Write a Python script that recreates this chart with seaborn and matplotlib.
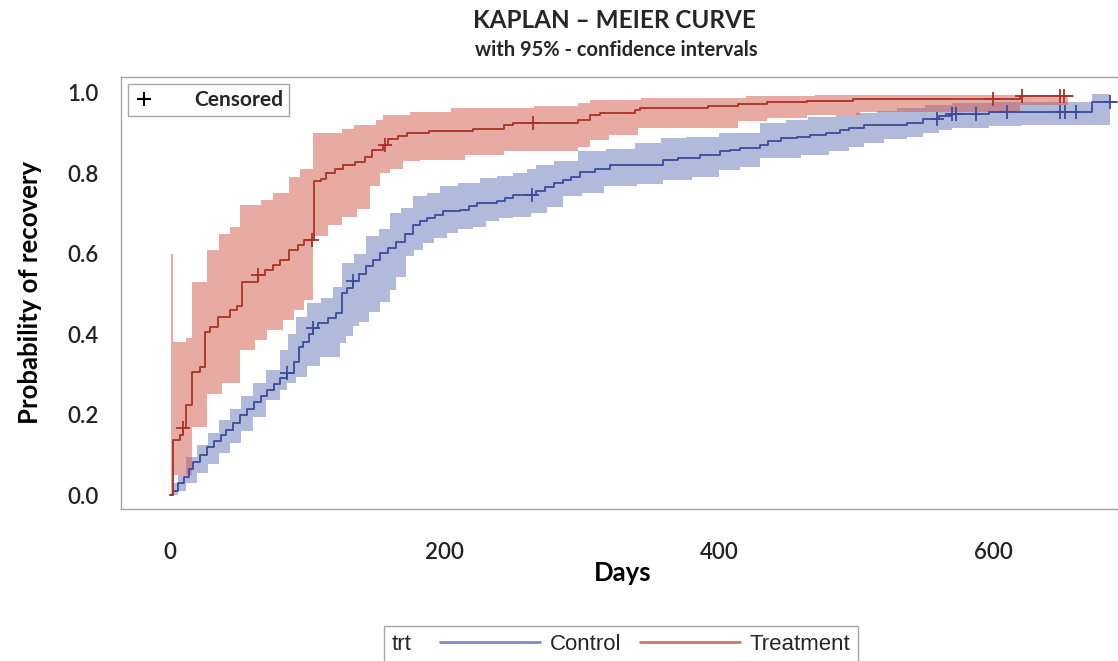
import numpy as np
import pandas as pd
import matplotlib
matplotlib.use("Agg")
import matplotlib.pyplot as plt
import seaborn as sns
from matplotlib.lines import Line2D
from matplotlib.offsetbox import HPacker

sns.set_theme(style="white")
plt.rcParams["font.family"] = ["Lato", "DejaVu Sans"]

# ---------------- Kaplan-Meier estimates (probability of recovery) ----------------
groups = ["Control", "Treatment"]

# Control arm: step curve
control_days = [0, 2, 6, 10, 14, 17, 22, 27, 32, 37,
                41, 46, 51, 56, 61, 66, 71, 76, 80, 85,
                90, 94, 97, 101, 104, 108, 115, 121, 125, 129,
                133, 138, 143, 148, 153, 159, 165, 171, 177, 182,
                187, 193, 199, 211, 218, 223.5, 238, 244, 250, 267,
                273, 280, 286, 292, 299, 310, 320.6, 359, 370, 386,
                401, 408, 415, 430, 436, 445, 456.6, 466, 478, 488,
                495, 506, 537, 549, 560, 569, 597, 671.5, 690]
control_prob = [0, .01, .03, .045, .065, .083, .10, .12, .135, .15,
                .162, .18, .20, .215, .23, .245, .26, .275, .29, .303,
                .33, .369, .38, .40, .415, .428, .44, .452, .502, .515,
                .531, .55, .568, .585, .602, .615, .63, .65, .672, .68,
                .689, .697, .705, .709, .718, .726, .73, .738, .746, .755,
                .765, .775, .784, .79, .804, .81, .821, .833, .838, .846,
                .854, .858, .862, .870, .879, .887, .891, .896, .90, .908,
                .913, .92, .925, .935, .941, .947, .953, .977, .977]

# Control arm: 95% confidence limits
control_hi_days = [0, 2, 6, 12, 20, 28, 36, 44, 52, 60.5,
                   70, 80, 86, 92, 99.6, 110, 119, 125, 134, 143,
                   152, 160, 168, 177, 187, 197, 210, 226, 238, 250,
                   260, 267, 280, 297, 318, 339, 358, 376, 400, 430,
                   449, 465, 485, 500, 515, 530, 550, 570, 600, 671.5, 685]
control_hi = [0, .03, .05, .095, .125, .155, .187, .215, .245, .278,
              .31, .36, .40, .443, .477, .49, .518, .577, .60, .643,
              .66, .70, .713, .742, .75, .767, .775, .789, .793, .80,
              .81, .82, .83, .854, .86, .875, .887, .891, .90, .925,
              .933, .94, .945, .95, .955, .962, .97, .975, .978, .997, .997]
control_lo_days = [0, 6, 12, 20, 28, 36, 44, 52, 60.5, 70,
                   80, 85, 92, 100, 109, 124, 128, 133, 138, 145,
                   153, 160, 165, 172, 178, 184, 192, 201.6, 210, 221,
                   230, 240, 250, 263, 275, 286, 300, 316, 340, 359,
                   380, 400, 415, 430, 460, 480, 495, 506, 520, 537,
                   549, 560, 570, 597, 620, 685]
control_lo = [0, .01, .03, .055, .078, .104, .13, .16, .195, .235,
              .262, .278, .294, .32, .344, .378, .395, .419, .43, .455,
              .48, .51, .543, .593, .61, .626, .64, .651, .66, .667,
              .68, .688, .69, .70, .715, .742, .75, .767, .772, .784,
              .79, .808, .815, .838, .846, .854, .866, .875, .885, .891,
              .90, .908, .912, .916, .92, .92]

# Treatment arm: step curve
treat_days = [0, 2, 7, 9.5, 11.7, 16, 22, 25.5, 29, 35,
              43.7, 49, 52.5, 64, 69, 75, 80, 87, 93, 98,
              105, 110, 114, 120, 126, 135, 142, 147, 155, 159,
              166, 173, 189, 221, 243, 250, 297, 306, 313, 339,
              342.5, 392, 414, 435, 464, 498, 619, 658]
treat_prob = [0, .137, .149, .167, .224, .306, .318, .405, .418, .443,
              .46, .47, .53, .547, .56, .572, .585, .61, .622, .634,
              .78, .786, .80, .81, .82, .828, .84, .858, .871, .884,
              .892, .90, .904, .91, .92, .925, .933, .945, .95, .958,
              .962, .966, .973, .976, .98, .984, .991, .991]

# Treatment arm: 95% confidence limits
treat_hi_days = [0, 1, 2.5, 12, 16, 27, 36, 44, 51, 66,
                 75, 87, 95, 104.5, 125, 134, 150, 155, 175, 205,
                 265, 297, 306, 343, 420, 470, 654]
treat_hi = [0, .60, .38, .39, .53, .61, .65, .667, .72, .734,
            .75, .79, .81, .90, .91, .92, .933, .945, .953, .962,
            .966, .975, .981, .988, .992, .995, .995]
treat_lo_days = [0, 2, 16, 27, 38, 51, 62, 71, 82, 90,
                 98, 104.5, 115, 125, 136, 146, 153, 160, 170, 182,
                 215, 243, 297, 306, 320, 341, 414, 435, 464, 503,
                 619, 654]
treat_lo = [0, .05, .17, .25, .278, .36, .386, .41, .435, .46,
            .485, .643, .67, .69, .71, .767, .80, .81, .83, .833,
            .845, .854, .866, .883, .895, .913, .929, .938, .945, .952,
            .97, .97]

# Censored observations (days)
control_censored = [85, 104.4, 133, 263.5, 558.6, 569.8, 572.5, 587, 610,
                    648.5, 652, 660, 685]
treat_censored = [9.6, 64.3, 103.2, 156.6, 264.5, 599.4, 620.5, 648.5, 651.6]

x_ticks = [0, 200, 400, 600]
y_ticks = [0.0, 0.2, 0.4, 0.6, 0.8, 1.0]

# ---------------- styling ----------------
line_colors = {"Control": "#3B4C9B", "Treatment": "#A93226"}
band_colors = {"Control": "#6676BA", "Treatment": "#D2584A"}
legend_colors = {"Control": "#7D8BC4", "Treatment": "#C97A70"}
GRAY = "#A6A6A6"


def step_value(days, vals, t):
    idx = np.searchsorted(np.asarray(days), np.asarray(t), side="right") - 1
    idx = np.clip(idx, 0, len(vals) - 1)
    return np.asarray(vals)[idx]


curves = pd.concat([
    pd.DataFrame({"day": control_days, "prob": control_prob, "trt": "Control"}),
    pd.DataFrame({"day": treat_days, "prob": treat_prob, "trt": "Treatment"}),
], ignore_index=True)

censored = pd.concat([
    pd.DataFrame({"day": control_censored,
                  "prob": step_value(control_days, control_prob, control_censored),
                  "trt": "Control"}),
    pd.DataFrame({"day": treat_censored,
                  "prob": step_value(treat_days, treat_prob, treat_censored),
                  "trt": "Treatment"}),
], ignore_index=True)

bands = {
    "Control": (control_lo_days, control_lo, control_hi_days, control_hi),
    "Treatment": (treat_lo_days, treat_lo, treat_hi_days, treat_hi),
}

W, H = 1118, 661
fig = plt.figure(figsize=(W / 100, H / 100), dpi=100)
ax = fig.add_axes([120.7 / W, 1 - 509 / H, (1125 - 120.7) / W, (509 - 76.7) / H])

# confidence bands
for g in groups:
    lo_d, lo_v, hi_d, hi_v = bands[g]
    grid = np.union1d(lo_d, hi_d)
    ax.fill_between(grid, step_value(lo_d, lo_v, grid), step_value(hi_d, hi_v, grid),
                    step="post", color=band_colors[g], alpha=0.5, lw=0, zorder=1)

# survival (recovery) step curves
sns.lineplot(data=curves, x="day", y="prob", hue="trt", palette=line_colors,
             estimator=None, sort=False, drawstyle="steps-post", lw=1.3,
             legend=False, ax=ax, zorder=3)

# censoring marks
sns.scatterplot(data=censored, x="day", y="prob", hue="trt", palette=line_colors,
                marker="+", s=100, linewidth=1.3, legend=False, ax=ax, zorder=4)

ax.set_xlim(-35.9, (1125 - 170) / 1.3725)
ax.set_ylim((495 - 509) / 402.3, (495 - 76.7) / 402.3)
ax.set_xticks(x_ticks)
ax.set_yticks(y_ticks)
ax.set_yticklabels([f"{v:.1f}" for v in y_ticks])
ax.tick_params(direction="out", length=11, width=1, color=GRAY, labelsize=16,
               labelcolor="#222222", pad=5)
ax.tick_params(axis="x", length=12, pad=12)
for lab in ax.get_xticklabels() + ax.get_yticklabels():
    lab.set_fontweight("semibold")
for s in ax.spines.values():
    s.set_color(GRAY)
    s.set_linewidth(1)
ax.grid(False)

ax.set_xlabel("Days", fontsize=18.5, fontweight="bold", labelpad=-2, color="black")
ax.set_ylabel("Probability of recovery", fontsize=18.5, fontweight="bold",
              labelpad=18, color="black")

# censored legend inside the plot
cens_handle = Line2D([], [], marker="+", color="black", ls="none",
                     markersize=10, markeredgewidth=1.5)
ax.legend([cens_handle], ["Censored"], loc="upper left", frameon=True,
          fancybox=False, edgecolor=GRAY, framealpha=1,
          prop=dict(weight="bold", size=15), handletextpad=1.9,
          borderpad=0.3, borderaxespad=0.33, handlelength=1.0)

# group legend below the plot, with its title set to the left of the entries
handles = [Line2D([], [], color=legend_colors[g], lw=2) for g in groups]
leg = fig.legend(handles, groups, ncol=2, title="trt", loc="upper center",
                 bbox_to_anchor=(621 / W, 1 - 626 / H), frameon=True,
                 fancybox=False, edgecolor=GRAY, framealpha=1,
                 prop=dict(family="Liberation Sans", size=16),
                 title_fontproperties=dict(family="Liberation Sans", size=16),
                 handlelength=4.5, handletextpad=0.45, columnspacing=0.8,
                 borderaxespad=0, borderpad=0.35)
fs = leg._fontsize
leg._legend_box = HPacker(pad=leg.borderpad * fs, sep=1.3 * fs, align="center",
                          children=[leg._legend_title_box, leg._legend_handle_box])
leg._legend_box.set_figure(fig)
leg._legend_box.axes = leg.axes
leg._legend_box.set_offset(leg._findoffset)

fig.text(614.5 / W, 1 - 20 / H, "KAPLAN – MEIER CURVE", ha="center", va="center",
         fontsize=17.5, fontweight="bold")
fig.text(616 / W, 1 - 50 / H, "with 95% - confidence intervals", ha="center",
         va="center", fontsize=14.5, fontweight="bold")

fig.savefig("out.png", dpi=100)
